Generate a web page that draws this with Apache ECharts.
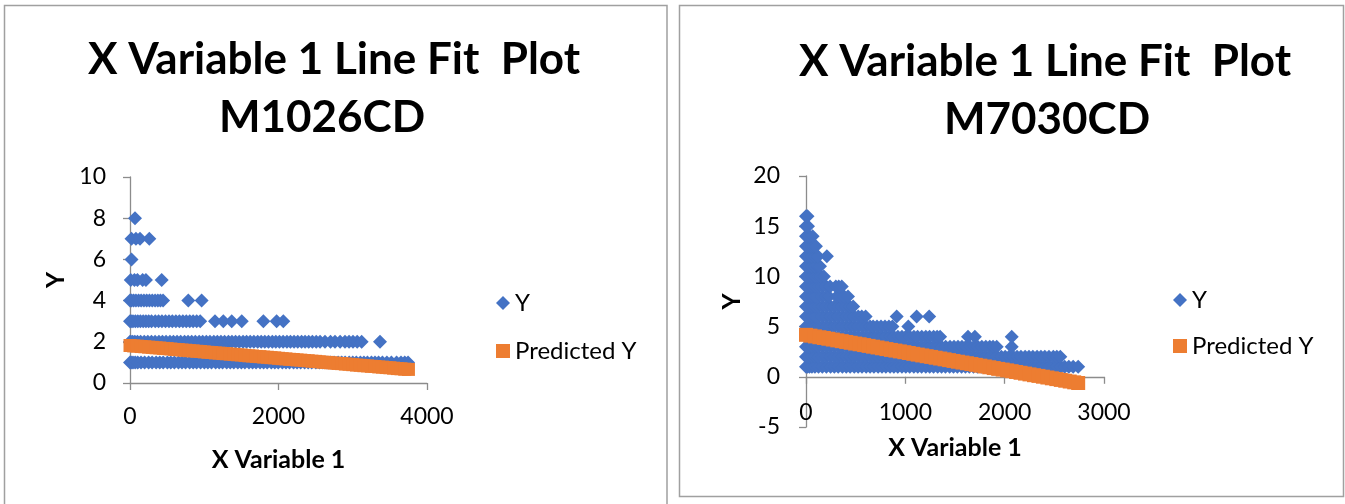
<!DOCTYPE html>
<html>
<head>
<meta charset="utf-8">
<script src="https://cdn.jsdelivr.net/npm/echarts@6/dist/echarts.min.js"></script>
<style>
html,body{margin:0;padding:0;background:#fff;}
#chart{width:1345px;height:504px;}
</style>
</head>
<body>
<div id="chart"></div>
<script>
// ---------- Chart 1: M1026CD ----------
const m1026_title = ['X Variable 1 Line Fit  Plot', 'M1026CD'];
const m1026_xTicks = { min: 0, max: 4000, interval: 2000 };
const m1026_yTicks = { min: 0, max: 10, interval: 2 };
// X values of observed points, grouped by observed Y value
const m1026_y1_x = [0, 15, 40, 70, 104, 148, 197, 251, 298, 352, 401, 447, 503, 549, 598, 652, 700, 748, 803, 851, 897, 950, 1002, 1049, 1098, 1153, 1201, 1247, 1302, 1350, 1398, 1452, 1500, 1547, 1603, 1651, 1698, 1752, 1800, 1848, 1903, 1950, 1997, 2052, 2101, 2148, 2203, 2250, 2298, 2352, 2400, 2447, 2503, 2551, 2598, 2652, 2700, 2748, 2803, 2851, 2897, 2952, 3000, 3048, 3103, 3151, 3198, 3252, 3300, 3348, 3400, 3460, 3520, 3590, 3650, 3700, 3745];
const m1026_y2_x = [0, 12, 35, 65, 100, 143, 192, 240, 289, 338, 390, 437, 486, 538, 585, 634, 683, 735, 782, 831, 880, 932, 979, 1028, 1077, 1129, 1176, 1225, 1274, 1326, 1373, 1422, 1471, 1523, 1570, 1619, 1668, 1720, 1767, 1816, 1865, 1917, 1964, 2013, 2062, 2114, 2161, 2210, 2259, 2311, 2358, 2407, 2456, 2508, 2560, 2626, 2700, 2761, 2830, 2896, 2950, 3003, 3060, 3120, 3367];
const m1026_y3_x = [0, 15, 40, 72, 105, 140, 178, 215, 252, 290, 340, 385, 430, 478, 525, 570, 618, 665, 712, 758, 805, 850, 898, 945, 1145, 1257, 1370, 1505, 1796, 1975, 2065];
const m1026_y4_x = [0, 20, 48, 80, 115, 150, 188, 225, 262, 300, 338, 375, 410, 445, 785, 965];
const m1026_y5_x = [10, 60, 100, 170, 215, 427];
const m1026_y6_x = [20];
const m1026_y7_x = [20, 80, 135, 260];
const m1026_y8_x = [67];
// Predicted Y (fitted line)
const m1026_predX = [0, 50, 100, 150, 200, 250, 300, 350, 400, 450, 500, 550, 600, 650, 700, 750, 800, 850, 900, 950, 1000, 1050, 1100, 1150, 1200, 1250, 1300, 1350, 1400, 1450, 1500, 1550, 1600, 1650, 1700, 1750, 1800, 1850, 1900, 1950, 2000, 2050, 2100, 2150, 2200, 2250, 2300, 2350, 2400, 2450, 2500, 2550, 2600, 2650, 2700, 2750, 2800, 2850, 2900, 2950, 3000, 3050, 3100, 3150, 3200, 3250, 3300, 3350, 3400, 3450, 3500, 3550, 3600, 3650, 3700, 3750];
const m1026_predY = [1.82, 1.80, 1.79, 1.77, 1.76, 1.74, 1.73, 1.71, 1.70, 1.68, 1.67, 1.65, 1.63, 1.62, 1.60, 1.59, 1.57, 1.56, 1.54, 1.53, 1.51, 1.49, 1.48, 1.46, 1.45, 1.43, 1.42, 1.40, 1.39, 1.37, 1.36, 1.34, 1.32, 1.31, 1.29, 1.28, 1.26, 1.25, 1.23, 1.22, 1.20, 1.18, 1.17, 1.15, 1.14, 1.12, 1.11, 1.09, 1.08, 1.06, 1.05, 1.03, 1.01, 1.00, 0.98, 0.97, 0.95, 0.94, 0.92, 0.91, 0.89, 0.87, 0.86, 0.84, 0.83, 0.81, 0.80, 0.78, 0.77, 0.75, 0.74, 0.72, 0.70, 0.69, 0.67, 0.66];

// ---------- Chart 2: M7030CD ----------
const m7030_title = ['X Variable 1 Line Fit  Plot', 'M7030CD'];
const m7030_xTicks = { min: 0, max: 3000, interval: 1000 };
const m7030_yTicks = { min: -5, max: 20, interval: 5 };
const m7030_y1_x = [0, 15, 35, 60, 90, 126, 164, 205, 247, 285, 324, 366, 405, 444, 486, 525, 564, 606, 645, 684, 726, 765, 804, 846, 885, 924, 966, 1005, 1044, 1086, 1125, 1164, 1206, 1245, 1284, 1326, 1365, 1404, 1446, 1485, 1524, 1566, 1605, 1644, 1686, 1725, 1764, 1806, 1845, 1884, 1926, 1965, 2004, 2046, 2085, 2124, 2166, 2205, 2244, 2286, 2325, 2364, 2406, 2445, 2484, 2526, 2565, 2604, 2646, 2690, 2740];
const m7030_y2_x = [0, 15, 35, 60, 90, 125, 166, 204, 245, 287, 325, 364, 406, 445, 484, 526, 565, 604, 646, 685, 724, 766, 805, 844, 886, 925, 964, 1006, 1045, 1084, 1126, 1165, 1204, 1246, 1285, 1324, 1366, 1405, 1444, 1486, 1525, 1564, 1606, 1645, 1684, 1726, 1765, 1804, 1846, 1885, 1924, 1966, 2005, 2044, 2086, 2125, 2164, 2206, 2245, 2284, 2326, 2365, 2404, 2446, 2490, 2525, 2560];
const m7030_y3_x = [0, 15, 35, 60, 91, 124, 165, 206, 244, 285, 326, 364, 405, 446, 484, 525, 566, 604, 645, 686, 724, 765, 806, 844, 885, 926, 964, 1005, 1046, 1084, 1125, 1166, 1204, 1245, 1286, 1324, 1365, 1406, 1450, 1490, 1530, 1570, 1610, 1650, 1690, 1730, 1770, 1810, 1850, 1883, 1920, 2071];
const m7030_y4_x = [0, 15, 35, 60, 90, 126, 164, 205, 246, 284, 325, 366, 404, 445, 486, 524, 565, 606, 644, 685, 726, 764, 805, 846, 884, 925, 966, 1004, 1045, 1086, 1124, 1165, 1206, 1244, 1285, 1320, 1350, 1631, 1700, 2071];
const m7030_y5_x = [0, 15, 35, 60, 90, 125, 165, 206, 244, 285, 326, 364, 405, 446, 484, 525, 566, 604, 645, 676, 715, 755, 795, 835, 870, 1030];
const m7030_y6_x = [0, 15, 35, 60, 90, 126, 165, 204, 245, 286, 324, 365, 406, 444, 485, 526, 561, 600, 913, 1114, 1240];
const m7030_y7_x = [0, 15, 35, 60, 90, 125, 164, 205, 246, 284, 325, 366, 404, 440, 475];
const m7030_y8_x = [0, 15, 35, 60, 90, 126, 165, 205, 230, 310, 345, 385, 423];
const m7030_y9_x = [0, 15, 35, 60, 90, 125, 165, 205, 242, 300, 330, 360];
const m7030_y10_x = [0, 15, 35, 60, 90, 125, 155, 180];
const m7030_y11_x = [0, 15, 35, 60, 90, 118, 141];
const m7030_y12_x = [0, 15, 35, 60, 90, 120, 210];
const m7030_y13_x = [0, 15, 35, 60, 80, 100];
const m7030_y14_x = [0, 15, 35, 67];
const m7030_y15_x = [0, 20];
const m7030_y16_x = [0, 15];
const m7030_predX = [0, 45, 90, 135, 180, 225, 270, 315, 360, 405, 450, 495, 540, 585, 630, 675, 720, 765, 810, 855, 900, 945, 990, 1035, 1080, 1125, 1170, 1215, 1260, 1305, 1350, 1395, 1440, 1485, 1530, 1575, 1620, 1665, 1710, 1755, 1800, 1845, 1890, 1935, 1980, 2025, 2070, 2115, 2160, 2205, 2250, 2295, 2340, 2385, 2430, 2475, 2520, 2565, 2610, 2655, 2700, 2740];
const m7030_predY = [4.18, 4.10, 4.02, 3.94, 3.87, 3.79, 3.71, 3.63, 3.55, 3.47, 3.39, 3.31, 3.24, 3.16, 3.08, 3.00, 2.92, 2.84, 2.76, 2.68, 2.61, 2.53, 2.45, 2.37, 2.29, 2.21, 2.13, 2.05, 1.98, 1.90, 1.82, 1.74, 1.66, 1.58, 1.50, 1.42, 1.35, 1.27, 1.19, 1.11, 1.03, 0.95, 0.87, 0.79, 0.72, 0.64, 0.56, 0.48, 0.40, 0.32, 0.24, 0.16, 0.09, 0.01, -0.07, -0.15, -0.23, -0.31, -0.39, -0.47, -0.55, -0.62];

const legendNames = ['Y', 'Predicted Y'];
const axisTitleX = 'X Variable 1';
const axisTitleY = 'Y';

// ---------- build ----------
function pts(xs, y) { return xs.map(function (x) { return [x, y]; }); }
function pairs(xs, ys) { return xs.map(function (x, i) { return [x, ys[i]]; }); }

const leftObs = [].concat(
  pts(m1026_y1_x, 1), pts(m1026_y2_x, 2), pts(m1026_y3_x, 3), pts(m1026_y4_x, 4),
  pts(m1026_y5_x, 5), pts(m1026_y6_x, 6), pts(m1026_y7_x, 7), pts(m1026_y8_x, 8));
const rightObs = [].concat(
  pts(m7030_y1_x, 1), pts(m7030_y2_x, 2), pts(m7030_y3_x, 3), pts(m7030_y4_x, 4),
  pts(m7030_y5_x, 5), pts(m7030_y6_x, 6), pts(m7030_y7_x, 7), pts(m7030_y8_x, 8),
  pts(m7030_y9_x, 9), pts(m7030_y10_x, 10), pts(m7030_y11_x, 11), pts(m7030_y12_x, 12),
  pts(m7030_y13_x, 13), pts(m7030_y14_x, 14), pts(m7030_y15_x, 15), pts(m7030_y16_x, 16));

const FONT = 'Lato';
const BLUE = '#4472C4';
const ORANGE = '#ED7D31';
const AXIS = '#8c8c8c';

function plain(v) { return String(v); }

function xAxisCfg(grid, ticks, labelMargin, nameGap) {
  return {
    type: 'value', gridIndex: grid, min: ticks.min, max: ticks.max, interval: ticks.interval,
    axisLine: { show: true, onZero: true, lineStyle: { color: AXIS, width: 1.3 } },
    axisTick: { show: true, inside: false, length: 7, lineStyle: { color: AXIS, width: 1.3 } },
    axisLabel: { fontFamily: FONT, fontSize: 23, color: '#000', margin: labelMargin, formatter: plain },
    splitLine: { show: false },
    name: axisTitleX, nameLocation: 'middle', nameGap: nameGap,
    nameTextStyle: { fontFamily: FONT, fontSize: 25, fontWeight: 'bold', color: '#000' }
  };
}
function yAxisCfg(grid, ticks, labelMargin, nameGap) {
  return {
    type: 'value', gridIndex: grid, min: ticks.min, max: ticks.max, interval: ticks.interval,
    axisLine: { show: true, lineStyle: { color: AXIS, width: 1.3 } },
    axisTick: { show: true, inside: false, length: 7, lineStyle: { color: AXIS, width: 1.3 } },
    axisLabel: { fontFamily: FONT, fontSize: 23, color: '#000', margin: labelMargin, formatter: plain },
    splitLine: { show: false },
    name: axisTitleY, nameLocation: 'middle', nameGap: nameGap, nameRotate: 90,
    nameTextStyle: { fontFamily: FONT, fontSize: 25, fontWeight: 'bold', color: '#000' }
  };
}
function titleCfg(text, cx, top) {
  return {
    text: text, left: cx, top: top, textAlign: 'center', padding: 0,
    textStyle: { fontFamily: FONT, fontSize: 44, fontWeight: 'bold', color: '#000', lineHeight: 50 }
  };
}
function legendCfg(left, top, gap) {
  return {
    orient: 'vertical', left: left, top: top, itemGap: gap, itemWidth: 14, itemHeight: 14, padding: 0,
    textStyle: { fontFamily: FONT, fontSize: 24, color: '#000' },
    data: [{ name: legendNames[0], icon: 'diamond' }, { name: legendNames[1], icon: 'rect' }]
  };
}

const chart = echarts.init(document.getElementById('chart'), null, { renderer: 'canvas' });
chart.setOption({
  animation: false,
  backgroundColor: '#fff',
  graphic: [
    { type: 'rect', silent: true, shape: { x: 4.5, y: 5.5, width: 662.5, height: 520 }, style: { fill: 'none', stroke: '#a0a0a0', lineWidth: 1.5 } },
    { type: 'rect', silent: true, shape: { x: 679.5, y: 5.5, width: 664, height: 491 }, style: { fill: 'none', stroke: '#a0a0a0', lineWidth: 1.5 } }
  ],
  title: [
    titleCfg(m1026_title[0], 334, 35),
    titleCfg(m1026_title[1], 322, 93),
    titleCfg(m7030_title[0], 1045, 37),
    titleCfg(m7030_title[1], 1047, 95)
  ],
  legend: [legendCfg(496, 291, 24), legendCfg(1173, 288, 22)],
  grid: [
    { left: 130, top: 177, width: 297, height: 206, containLabel: false },
    { left: 806, top: 176, width: 298, height: 251, containLabel: false }
  ],
  xAxis: [xAxisCfg(0, m1026_xTicks, 22, 64), xAxisCfg(1, m7030_xTicks, -26, 8)],
  yAxis: [yAxisCfg(0, m1026_yTicks, 24, 62), yAxisCfg(1, m7030_yTicks, 26, 62)],
  series: [
    { name: 'Y', type: 'scatter', xAxisIndex: 0, yAxisIndex: 0, symbol: 'diamond', symbolSize: 14,
      itemStyle: { color: BLUE, opacity: 1 }, data: leftObs },
    { name: 'Predicted Y', type: 'scatter', xAxisIndex: 0, yAxisIndex: 0, symbol: 'rect', symbolSize: 13,
      itemStyle: { color: ORANGE, opacity: 1 }, data: pairs(m1026_predX, m1026_predY) },
    { name: 'Y', type: 'scatter', xAxisIndex: 1, yAxisIndex: 1, symbol: 'diamond', symbolSize: 14,
      itemStyle: { color: BLUE, opacity: 1 }, data: rightObs },
    { name: 'Predicted Y', type: 'scatter', xAxisIndex: 1, yAxisIndex: 1, symbol: 'rect', symbolSize: 14,
      itemStyle: { color: ORANGE, opacity: 1 }, data: pairs(m7030_predX, m7030_predY) }
  ]
});
</script>
</body>
</html>
